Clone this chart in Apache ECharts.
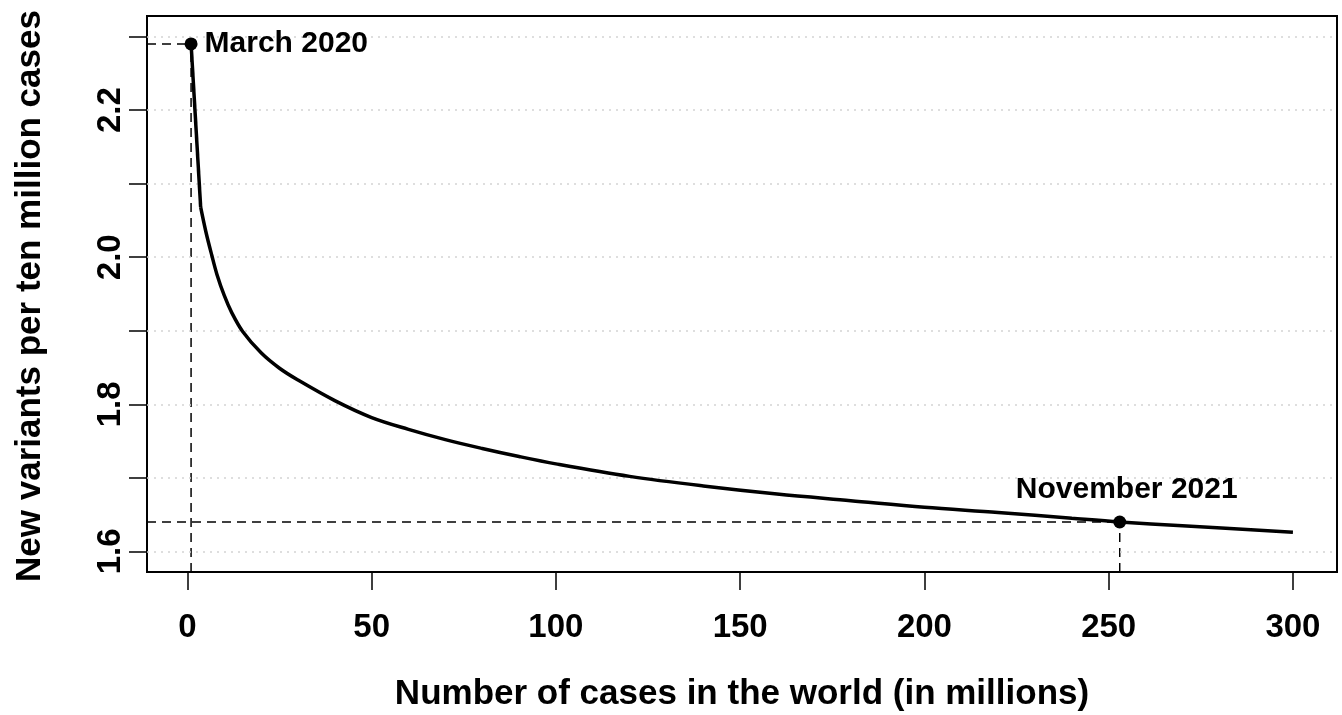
<!DOCTYPE html>
<html>
<head>
<meta charset="utf-8">
<script src="https://cdn.jsdelivr.net/npm/echarts@6/dist/echarts.min.js"></script>
<style>
html,body{margin:0;padding:0;background:#fff;}
#chart{width:1342px;height:715px;}
</style>
</head>
<body>
<div id="chart"></div>
<script>
// ---- data ----
const casesMillions = [1, 3.6, 5, 6.6, 8, 10, 12, 15, 20, 25, 30, 40, 50, 60, 70, 80, 90, 100, 120, 140, 160, 180, 200, 220, 240, 253, 270, 300];
const newVariants   = [2.290, 2.068, 2.035, 2.003, 1.977, 1.948, 1.925, 1.899, 1.870, 1.849, 1.833, 1.805, 1.782, 1.766, 1.752, 1.740, 1.729, 1.719, 1.702, 1.689, 1.678, 1.669, 1.660, 1.653, 1.645, 1.640, 1.635, 1.626];
const markCases  = [1, 253];
const markValues = [2.29, 1.64];
const markNames  = ['March 2020', 'November 2021'];
const xTickValues = [0, 50, 100, 150, 200, 250, 300];
const yTickValues = [1.6, 1.7, 1.8, 1.9, 2.0, 2.1, 2.2, 2.3];
const yLabelValues = [1.6, 1.8, 2.0, 2.2];
const xTitle = 'Number of cases in the world (in millions)';
const yTitle = 'New variants per ten million cases';

const X_MIN = -10.96, X_MAX = 311.96, Y_MIN = 1.572, Y_MAX = 2.328;
const FONT = "'Liberation Sans', Arial, Helvetica, sans-serif";

const chart = echarts.init(document.getElementById('chart'), null, {renderer: 'canvas'});

const dashStyle = {color: '#000', width: 1.5, type: [9, 6]};
const guideSeries = [];
markCases.forEach((x, i) => {
  const y = markValues[i];
  guideSeries.push({
    type: 'line', data: [[X_MIN, y], [x, y]], symbol: 'none', silent: true,
    lineStyle: dashStyle, z: 3, animation: false
  });
  guideSeries.push({
    type: 'line', data: [[x, Y_MIN], [x, y]], symbol: 'none', silent: true,
    lineStyle: dashStyle, z: 3, animation: false
  });
});

const curvePoints = casesMillions.map((x, i) => [x, newVariants[i]]);
const labelBase = {show: true, color: '#000', opacity: 1, fontFamily: FONT, fontWeight: 'bold', fontSize: 30};

const option = {
  animation: false,
  backgroundColor: '#fff',
  grid: {left: 147, right: 5, top: 16, bottom: 143, show: true, borderColor: '#000', borderWidth: 2, backgroundColor: 'transparent'},
  xAxis: {
    type: 'value', min: X_MIN, max: X_MAX,
    axisLine: {show: true, onZero: false, lineStyle: {color: '#000', width: 2}},
    axisTick: {show: true, length: 18, customValues: xTickValues, lineStyle: {color: '#000', width: 1.5}},
    axisLabel: {show: true, customValues: xTickValues, margin: 39, color: '#000', fontFamily: FONT, fontWeight: 'bold', fontSize: 33},
    splitLine: {show: false}
  },
  yAxis: {
    type: 'value', min: Y_MIN, max: Y_MAX,
    axisLine: {show: true, onZero: false, lineStyle: {color: '#000', width: 2}},
    axisTick: {show: true, length: 18, customValues: yTickValues, lineStyle: {color: '#000', width: 1.5}},
    axisLabel: {show: true, customValues: yLabelValues, rotate: 90, margin: 20, color: '#000', fontFamily: FONT, fontWeight: 'bold', fontSize: 33,
      formatter: v => Number(v).toFixed(1)},
    splitLine: {show: false}
  },
  graphic: [
    {type: 'text', x: 742, y: 694, style: {text: xTitle, align: 'center', verticalAlign: 'middle', font: "bold 35px " + FONT, fill: '#000'}},
    {type: 'text', x: 30, y: 296, rotation: Math.PI / 2, style: {text: yTitle, align: 'center', verticalAlign: 'middle', font: "bold 35px " + FONT, fill: '#000'}}
  ],
  series: [
    {
      type: 'line', data: [], silent: true, z: 1,
      markLine: {
        silent: true, symbol: 'none', animation: false, label: {show: false},
        lineStyle: {color: '#d3d3d3', width: 1.5, type: [2, 5]},
        data: yTickValues.map(v => ({yAxis: v}))
      }
    },
    ...guideSeries,
    {
      type: 'line', data: curvePoints.slice(0, 2),
      symbol: 'none', smooth: false, lineStyle: {color: '#000', width: 3.5}, z: 5
    },
    {
      type: 'line', data: curvePoints.slice(1),
      symbol: 'none', smooth: 0.35, lineStyle: {color: '#000', width: 3.5}, z: 5
    },
    {
      type: 'scatter', z: 6, symbol: 'circle', symbolSize: 13, itemStyle: {color: '#000', opacity: 1},
      data: markCases.map((x, i) => ({
        value: [x, markValues[i]],
        label: i === 0
          ? Object.assign({position: 'right', distance: 7, formatter: markNames[i]}, labelBase)
          : Object.assign({position: 'top', distance: 11, offset: [7, 0], formatter: markNames[i]}, labelBase)
      }))
    }
  ]
};
chart.setOption(option);
</script>
</body>
</html>
